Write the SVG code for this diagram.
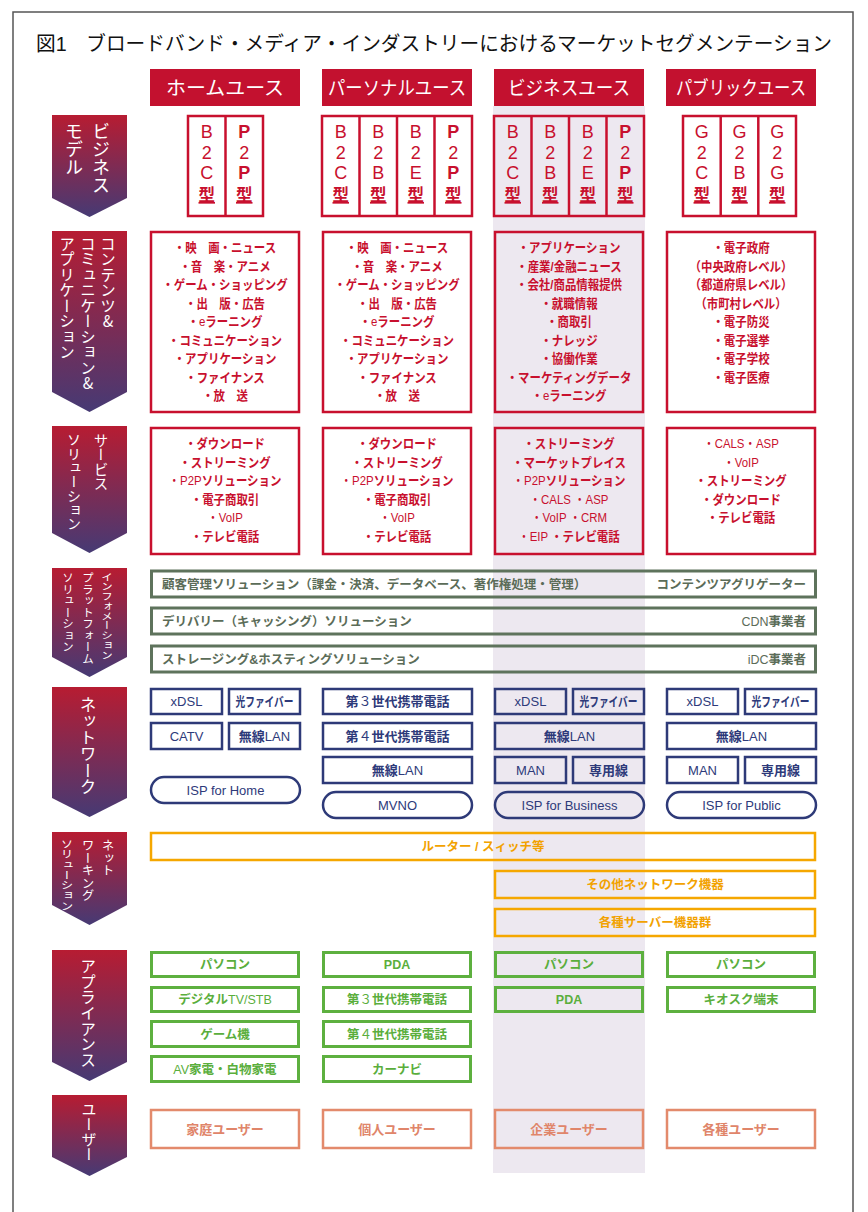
<svg xmlns="http://www.w3.org/2000/svg" width="868" height="1212" viewBox="0 0 868 1212">
<defs>
<linearGradient id="lg" x1="0" y1="0" x2="0" y2="1">
<stop offset="0" stop-color="#B71C32"/>
<stop offset="1" stop-color="#463A74"/>
</linearGradient>
<style>
text{font-family:"Liberation Sans","Noto Sans CJK JP",sans-serif}
.lab{fill:#fff;font-family:"Noto Sans CJK JP",sans-serif;writing-mode:vertical-rl;text-orientation:upright}
.hd{fill:#C3112F}
.hdt{fill:#fff;font-size:19px;text-anchor:middle;font-family:"Noto Sans CJK JP",sans-serif}
.rb{fill:none;stroke:#C8102E;stroke-width:2.5}
.rt{fill:#C8102E;text-anchor:middle;font-size:13px;font-weight:700}
.ml{fill:#C8102E;text-anchor:middle;font-size:18px}
.kata{fill:#C8102E;text-anchor:middle;font-size:16.5px;font-weight:700;text-decoration:underline;font-family:"Noto Sans CJK JP",sans-serif}
.n{font-weight:400}
.b{font-weight:700}
.gb{fill:none;stroke:#5E735C;stroke-width:3}
.gt{fill:#5B6C58;font-size:12.5px;font-weight:700}
.nb{fill:none;stroke:#2E3A78;stroke-width:2.5}
.nt{fill:#2E3A7A;font-size:13px;text-anchor:middle}
.ob{fill:none;stroke:#F5A700;stroke-width:2.5}
.ot{fill:#F2A200;font-size:12.5px;font-weight:700;text-anchor:middle}
.ab{fill:none;stroke:#5DB03F;stroke-width:3}
.at{fill:#5AAE3C;font-size:12.5px;font-weight:700;text-anchor:middle}
.ub{fill:none;stroke:#E38A6C;stroke-width:2.5}
.ut{fill:#E0856A;font-size:13px;font-weight:700;text-anchor:middle}
</style>
</defs>
<rect width="868" height="1212" fill="#fff"/>
<path d="M13,1212 V12 H853 V1212" fill="none" stroke="#555" stroke-width="1.5"/>
<rect id="business-band" x="493" y="106" width="152" height="1067" fill="#EDE8F0"/>
<text id="title" x="36" y="51" font-size="20" textLength="796" lengthAdjust="spacingAndGlyphs" fill="#111">図1　ブロードバンド・メディア・インダストリーにおけるマーケットセグメンテーション</text>

<g id="headers">
<g id="h-home"><rect class="hd" x="150" y="69" width="150" height="37"/><text class="hdt" x="225" y="95" textLength="118" lengthAdjust="spacingAndGlyphs">ホームユース</text></g>
<g id="h-personal"><rect class="hd" x="322" y="69" width="150" height="37"/><text class="hdt" x="397" y="95" textLength="138" lengthAdjust="spacingAndGlyphs">パーソナルユース</text></g>
<g id="h-business"><rect class="hd" x="494" y="69" width="150" height="37"/><text class="hdt" x="569" y="95" textLength="122" lengthAdjust="spacingAndGlyphs">ビジネスユース</text></g>
<g id="h-public"><rect class="hd" x="666" y="69" width="150" height="37"/><text class="hdt" x="741" y="95" textLength="130" lengthAdjust="spacingAndGlyphs">パブリックユース</text></g>
</g>

<g id="labels">
<g id="lab-model"><polygon points="52,115 127,115 127,198 89.5,217 52,198" fill="url(#lg)"/>
<text class="lab" x="101" y="122" font-size="18">ビジネス</text><text class="lab" x="74" y="122" font-size="18">モデル</text></g>
<g id="lab-content"><polygon points="52,231 127,231 127,392 89.5,412 52,392" fill="url(#lg)"/>
<text class="lab" x="108" y="236" font-size="15.5">コンテンツ&amp;</text><text class="lab" x="88" y="236" font-size="15.5">コミュニケーション&amp;</text><text class="lab" x="67" y="236" font-size="15.5">アプリケーション</text></g>
<g id="lab-service"><polygon points="52,426 127,426 127,533 89.5,553 52,533" fill="url(#lg)"/>
<text class="lab" x="101" y="433" font-size="14.5">サービス</text><text class="lab" x="74" y="433" font-size="14">ソリューション</text></g>
<g id="lab-info"><polygon points="52,568 127,568 127,657 89.5,677 52,657" fill="url(#lg)"/>
<text class="lab" x="107" y="572" font-size="11.5" textLength="88" lengthAdjust="spacingAndGlyphs">インフォメーション</text><text class="lab" x="88" y="572" font-size="11.5">プラットフォーム</text><text class="lab" x="68" y="572" font-size="11.5">ソリューション</text></g>
<g id="lab-network"><polygon points="52,687 127,687 127,798 89.5,817 52,798" fill="url(#lg)"/>
<text class="lab" x="88" y="696" font-size="16.5">ネットワーク</text></g>
<g id="lab-networking"><polygon points="52,832 127,832 127,905 89.5,925 52,905" fill="url(#lg)"/>
<text class="lab" x="108" y="839" font-size="12.5">ネット</text><text class="lab" x="88" y="839" font-size="12.5">ワーキング</text><text class="lab" x="67" y="839" font-size="12.5" textLength="72" lengthAdjust="spacingAndGlyphs">ソリューション</text></g>
<g id="lab-appliance"><polygon points="52,950 127,950 127,1062 89.5,1081 52,1062" fill="url(#lg)"/>
<text class="lab" x="88" y="958" font-size="15.7">アプライアンス</text></g>
<g id="lab-user"><polygon points="52,1095 127,1095 127,1157 89.5,1176 52,1157" fill="url(#lg)"/>
<text class="lab" x="89" y="1102" font-size="15">ユーザー</text></g>
</g>

<g id="models">
<g id="m-home"><rect class="rb" x="188" y="116" width="75" height="100"/><line class="rb" x1="225.5" y1="116" x2="225.5" y2="216"/>
<text class="ml" x="206.75" y="138">B</text><text class="ml" x="206.75" y="158.5">2</text><text class="ml" x="206.75" y="179">C</text><text class="kata" x="206.75" y="201">型</text>
<text class="ml b" x="244.25" y="138">P</text><text class="ml" x="244.25" y="158.5">2</text><text class="ml b" x="244.25" y="179">P</text><text class="kata" x="244.25" y="201">型</text></g>
<g id="m-personal"><rect class="rb" x="322" y="116" width="150" height="100"/><line class="rb" x1="359.5" y1="116" x2="359.5" y2="216"/><line class="rb" x1="397" y1="116" x2="397" y2="216"/><line class="rb" x1="434.5" y1="116" x2="434.5" y2="216"/>
<text class="ml" x="340.75" y="138">B</text><text class="ml" x="340.75" y="158.5">2</text><text class="ml" x="340.75" y="179">C</text><text class="kata" x="340.75" y="201">型</text>
<text class="ml" x="378.25" y="138">B</text><text class="ml" x="378.25" y="158.5">2</text><text class="ml" x="378.25" y="179">B</text><text class="kata" x="378.25" y="201">型</text>
<text class="ml" x="415.75" y="138">B</text><text class="ml" x="415.75" y="158.5">2</text><text class="ml" x="415.75" y="179">E</text><text class="kata" x="415.75" y="201">型</text>
<text class="ml b" x="453.25" y="138">P</text><text class="ml" x="453.25" y="158.5">2</text><text class="ml b" x="453.25" y="179">P</text><text class="kata" x="453.25" y="201">型</text></g>
<g id="m-business"><rect class="rb" x="494" y="116" width="150" height="100"/><line class="rb" x1="531.5" y1="116" x2="531.5" y2="216"/><line class="rb" x1="569" y1="116" x2="569" y2="216"/><line class="rb" x1="606.5" y1="116" x2="606.5" y2="216"/>
<text class="ml" x="512.75" y="138">B</text><text class="ml" x="512.75" y="158.5">2</text><text class="ml" x="512.75" y="179">C</text><text class="kata" x="512.75" y="201">型</text>
<text class="ml" x="550.25" y="138">B</text><text class="ml" x="550.25" y="158.5">2</text><text class="ml" x="550.25" y="179">B</text><text class="kata" x="550.25" y="201">型</text>
<text class="ml" x="587.75" y="138">B</text><text class="ml" x="587.75" y="158.5">2</text><text class="ml" x="587.75" y="179">E</text><text class="kata" x="587.75" y="201">型</text>
<text class="ml b" x="625.25" y="138">P</text><text class="ml" x="625.25" y="158.5">2</text><text class="ml b" x="625.25" y="179">P</text><text class="kata" x="625.25" y="201">型</text></g>
<g id="m-public"><rect class="rb" x="683" y="116" width="113" height="100"/><line class="rb" x1="720.7" y1="116" x2="720.7" y2="216"/><line class="rb" x1="758.3" y1="116" x2="758.3" y2="216"/>
<text class="ml" x="701.8" y="138">G</text><text class="ml" x="701.8" y="158.5">2</text><text class="ml" x="701.8" y="179">C</text><text class="kata" x="701.8" y="201">型</text>
<text class="ml" x="739.5" y="138">G</text><text class="ml" x="739.5" y="158.5">2</text><text class="ml" x="739.5" y="179">B</text><text class="kata" x="739.5" y="201">型</text>
<text class="ml" x="777.2" y="138">G</text><text class="ml" x="777.2" y="158.5">2</text><text class="ml" x="777.2" y="179">G</text><text class="kata" x="777.2" y="201">型</text></g>
</g>

<g id="contents">
<g id="c-home"><rect class="rb" x="151" y="232" width="148" height="180"/>
<g transform="translate(225,0) scale(0.88,1)">
<text class="rt" x="0" y="252.5">・映　画・ニュース</text><text class="rt" x="0" y="271">・音　楽・アニメ</text><text class="rt" x="0" y="289.5">・ゲーム・ショッピング</text><text class="rt" x="0" y="308">・出　版・広告</text><text class="rt" x="0" y="326.5">・<tspan class="n">e</tspan>ラーニング</text><text class="rt" x="0" y="345">・コミュニケーション</text><text class="rt" x="0" y="363.5">・アプリケーション</text><text class="rt" x="0" y="382">・ファイナンス</text><text class="rt" x="0" y="400.5">・放　送</text></g></g>
<g id="c-personal"><rect class="rb" x="323" y="232" width="148" height="180"/>
<g transform="translate(397,0) scale(0.88,1)">
<text class="rt" x="0" y="252.5">・映　画・ニュース</text><text class="rt" x="0" y="271">・音　楽・アニメ</text><text class="rt" x="0" y="289.5">・ゲーム・ショッピング</text><text class="rt" x="0" y="308">・出　版・広告</text><text class="rt" x="0" y="326.5">・<tspan class="n">e</tspan>ラーニング</text><text class="rt" x="0" y="345">・コミュニケーション</text><text class="rt" x="0" y="363.5">・アプリケーション</text><text class="rt" x="0" y="382">・ファイナンス</text><text class="rt" x="0" y="400.5">・放　送</text></g></g>
<g id="c-business"><rect class="rb" x="495" y="232" width="148" height="180"/>
<g transform="translate(569,0) scale(0.88,1)">
<text class="rt" x="0" y="252.5">・アプリケーション</text><text class="rt" x="0" y="271">・産業/金融ニュース</text><text class="rt" x="0" y="289.5">・会社/商品情報提供</text><text class="rt" x="0" y="308">・就職情報</text><text class="rt" x="0" y="326.5">・商取引</text><text class="rt" x="0" y="345">・ナレッジ</text><text class="rt" x="0" y="363.5">・協働作業</text><text class="rt" x="0" y="382">・マーケティングデータ</text><text class="rt" x="0" y="400.5">・<tspan class="n">e</tspan>ラーニング</text></g></g>
<g id="c-public"><rect class="rb" x="667" y="232" width="148" height="180"/>
<g transform="translate(741,0) scale(0.88,1)">
<text class="rt" x="0" y="252.5">・電子政府</text><text class="rt" x="0" y="271">（中央政府レベル）</text><text class="rt" x="0" y="289.5">（都道府県レベル）</text><text class="rt" x="0" y="308">（市町村レベル）</text><text class="rt" x="0" y="326.5">・電子防災</text><text class="rt" x="0" y="345">・電子選挙</text><text class="rt" x="0" y="363.5">・電子学校</text><text class="rt" x="0" y="382">・電子医療</text></g></g>
</g>

<g id="services">
<g id="s-home"><rect class="rb" x="151" y="428" width="148" height="126"/>
<g transform="translate(225,0) scale(0.88,1)">
<text class="rt" x="0" y="448.5">・ダウンロード</text><text class="rt" x="0" y="467">・ストリーミング</text><text class="rt" x="0" y="485.5"><tspan class="n">・P2P</tspan>ソリューション</text><text class="rt" x="0" y="504">・電子商取引</text><text class="rt n" x="0" y="522.5">・VoIP</text><text class="rt" x="0" y="541">・テレビ電話</text></g></g>
<g id="s-personal"><rect class="rb" x="323" y="428" width="148" height="126"/>
<g transform="translate(397,0) scale(0.88,1)">
<text class="rt" x="0" y="448.5">・ダウンロード</text><text class="rt" x="0" y="467">・ストリーミング</text><text class="rt" x="0" y="485.5"><tspan class="n">・P2P</tspan>ソリューション</text><text class="rt" x="0" y="504">・電子商取引</text><text class="rt n" x="0" y="522.5">・VoIP</text><text class="rt" x="0" y="541">・テレビ電話</text></g></g>
<g id="s-business"><rect class="rb" x="495" y="428" width="148" height="126"/>
<g transform="translate(569,0) scale(0.88,1)">
<text class="rt" x="0" y="448.5">・ストリーミング</text><text class="rt" x="0" y="467">・マーケットプレイス</text><text class="rt" x="0" y="485.5"><tspan class="n">・P2P</tspan>ソリューション</text><text class="rt n" x="0" y="504">・CALS ・ASP</text><text class="rt n" x="0" y="522.5">・VoIP ・CRM</text><text class="rt" x="0" y="541"><tspan class="n">・EIP </tspan>・テレビ電話</text></g></g>
<g id="s-public"><rect class="rb" x="667" y="428" width="148" height="126"/>
<g transform="translate(741,0) scale(0.88,1)">
<text class="rt n" x="0" y="448.5">・CALS・ASP</text><text class="rt n" x="0" y="467">・VoIP</text><text class="rt" x="0" y="485.5">・ストリーミング</text><text class="rt" x="0" y="504">・ダウンロード</text><text class="rt" x="0" y="522.5">・テレビ電話</text></g></g>
</g>

<g id="platform">
<g id="p-customer"><rect class="gb" x="151.5" y="571" width="664" height="26"/><text class="gt" x="162" y="588.5">顧客管理ソリューション（課金・決済、データベース、著作権処理・管理）</text><text class="gt" x="806" y="588.5" text-anchor="end">コンテンツアグリゲーター</text></g>
<g id="p-delivery"><rect class="gb" x="151.5" y="608" width="664" height="26"/><text class="gt" x="162" y="625.5">デリバリー（キャッシング）ソリューション</text><text class="gt" x="806" y="625.5" text-anchor="end"><tspan class="n">CDN</tspan>事業者</text></g>
<g id="p-storage"><rect class="gb" x="151.5" y="646" width="664" height="26"/><text class="gt" x="162" y="663.5">ストレージング&amp;ホスティングソリューション</text><text class="gt" x="806" y="663.5" text-anchor="end"><tspan class="n">iDC</tspan>事業者</text></g>
</g>

<g id="network">
<g id="n-home">
<rect class="nb" x="151" y="689" width="71" height="25"/><text class="nt" x="186.5" y="706">xDSL</text>
<rect class="nb" x="229" y="689" width="71" height="25"/><text class="nt b" x="264.5" y="706" textLength="58" lengthAdjust="spacingAndGlyphs">光ファイバー</text>
<rect class="nb" x="151" y="723" width="71" height="26"/><text class="nt" x="186.5" y="740.5">CATV</text>
<rect class="nb" x="229" y="723" width="71" height="26"/><text class="nt" x="264.5" y="740.5"><tspan class="b">無線</tspan>LAN</text>
<rect class="nb" x="151" y="777" width="149" height="26" rx="13"/><text class="nt" x="225.5" y="794.5">ISP for Home</text></g>
<g id="n-personal">
<rect class="nb" x="323" y="689" width="149" height="25"/><text class="nt b" x="397.5" y="706">第<tspan class="n">３</tspan>世代携帯電話</text>
<rect class="nb" x="323" y="723" width="149" height="26"/><text class="nt b" x="397.5" y="740.5">第<tspan class="n">４</tspan>世代携帯電話</text>
<rect class="nb" x="323" y="757" width="149" height="26"/><text class="nt" x="397.5" y="774.5"><tspan class="b">無線</tspan>LAN</text>
<rect class="nb" x="323" y="792" width="149" height="26" rx="13"/><text class="nt" x="397.5" y="809.5">MVNO</text></g>
<g id="n-business">
<rect class="nb" x="495" y="689" width="71" height="25"/><text class="nt" x="530.5" y="706">xDSL</text>
<rect class="nb" x="573" y="689" width="71" height="25"/><text class="nt b" x="608.5" y="706" textLength="58" lengthAdjust="spacingAndGlyphs">光ファイバー</text>
<rect class="nb" x="495" y="723" width="149" height="26"/><text class="nt" x="569.5" y="740.5"><tspan class="b">無線</tspan>LAN</text>
<rect class="nb" x="495" y="757" width="71" height="26"/><text class="nt" x="530.5" y="774.5">MAN</text>
<rect class="nb" x="573" y="757" width="71" height="26"/><text class="nt b" x="608.5" y="774.5">専用線</text>
<rect class="nb" x="495" y="792" width="149" height="26" rx="13"/><text class="nt" x="569.5" y="809.5">ISP for Business</text></g>
<g id="n-public">
<rect class="nb" x="667" y="689" width="71" height="25"/><text class="nt" x="702.5" y="706">xDSL</text>
<rect class="nb" x="745" y="689" width="71" height="25"/><text class="nt b" x="780.5" y="706" textLength="58" lengthAdjust="spacingAndGlyphs">光ファイバー</text>
<rect class="nb" x="667" y="723" width="149" height="26"/><text class="nt" x="741.5" y="740.5"><tspan class="b">無線</tspan>LAN</text>
<rect class="nb" x="667" y="757" width="71" height="26"/><text class="nt" x="702.5" y="774.5">MAN</text>
<rect class="nb" x="745" y="757" width="71" height="26"/><text class="nt b" x="780.5" y="774.5">専用線</text>
<rect class="nb" x="667" y="792" width="149" height="26" rx="13"/><text class="nt" x="741.5" y="809.5">ISP for Public</text></g>
</g>

<g id="networking">
<g id="w-router"><rect class="ob" x="151" y="833" width="664" height="27"/><text class="ot" x="483" y="851">ルーター / スィッチ等</text></g>
<g id="w-other"><rect class="ob" x="495" y="871" width="320" height="27"/><text class="ot" x="655" y="889">その他ネットワーク機器</text></g>
<g id="w-server"><rect class="ob" x="495" y="909" width="320" height="27"/><text class="ot" x="655" y="927">各種サーバー機器群</text></g>
</g>

<g id="appliances">
<g id="a-home">
<rect class="ab" x="151.5" y="952.5" width="147" height="24"/><text class="at" x="225" y="969">パソコン</text>
<rect class="ab" x="151.5" y="987.5" width="147" height="24"/><text class="at" x="225" y="1004">デジタル<tspan class="n">TV/STB</tspan></text>
<rect class="ab" x="151.5" y="1021.5" width="147" height="25"/><text class="at" x="225" y="1038.5">ゲーム機</text>
<rect class="ab" x="151.5" y="1056.5" width="147" height="25"/><text class="at" x="225" y="1073.5"><tspan class="n">AV</tspan>家電・白物家電</text></g>
<g id="a-personal">
<rect class="ab" x="323.5" y="952.5" width="147" height="24"/><text class="at n" x="397" y="969">PDA</text>
<rect class="ab" x="323.5" y="987.5" width="147" height="24"/><text class="at" x="397" y="1004">第<tspan class="n">３</tspan>世代携帯電話</text>
<rect class="ab" x="323.5" y="1021.5" width="147" height="25"/><text class="at" x="397" y="1038.5">第<tspan class="n">４</tspan>世代携帯電話</text>
<rect class="ab" x="323.5" y="1056.5" width="147" height="25"/><text class="at" x="397" y="1073.5">カーナビ</text></g>
<g id="a-business">
<rect class="ab" x="495.5" y="952.5" width="147" height="24"/><text class="at" x="569" y="969">パソコン</text>
<rect class="ab" x="495.5" y="987.5" width="147" height="24"/><text class="at n" x="569" y="1004">PDA</text></g>
<g id="a-public">
<rect class="ab" x="667.5" y="952.5" width="147" height="24"/><text class="at" x="741" y="969">パソコン</text>
<rect class="ab" x="667.5" y="987.5" width="147" height="24"/><text class="at" x="741" y="1004">キオスク端末</text></g>
</g>

<g id="users">
<g id="u-home"><rect class="ub" x="151" y="1110" width="148" height="38"/><text class="ut" x="225" y="1134">家庭ユーザー</text></g>
<g id="u-personal"><rect class="ub" x="323" y="1110" width="148" height="38"/><text class="ut" x="397" y="1134">個人ユーザー</text></g>
<g id="u-business"><rect class="ub" x="495" y="1110" width="148" height="38"/><text class="ut" x="569" y="1134">企業ユーザー</text></g>
<g id="u-public"><rect class="ub" x="667" y="1110" width="148" height="38"/><text class="ut" x="741" y="1134">各種ユーザー</text></g>
</g>
<g id="connectors"/>
</svg>
